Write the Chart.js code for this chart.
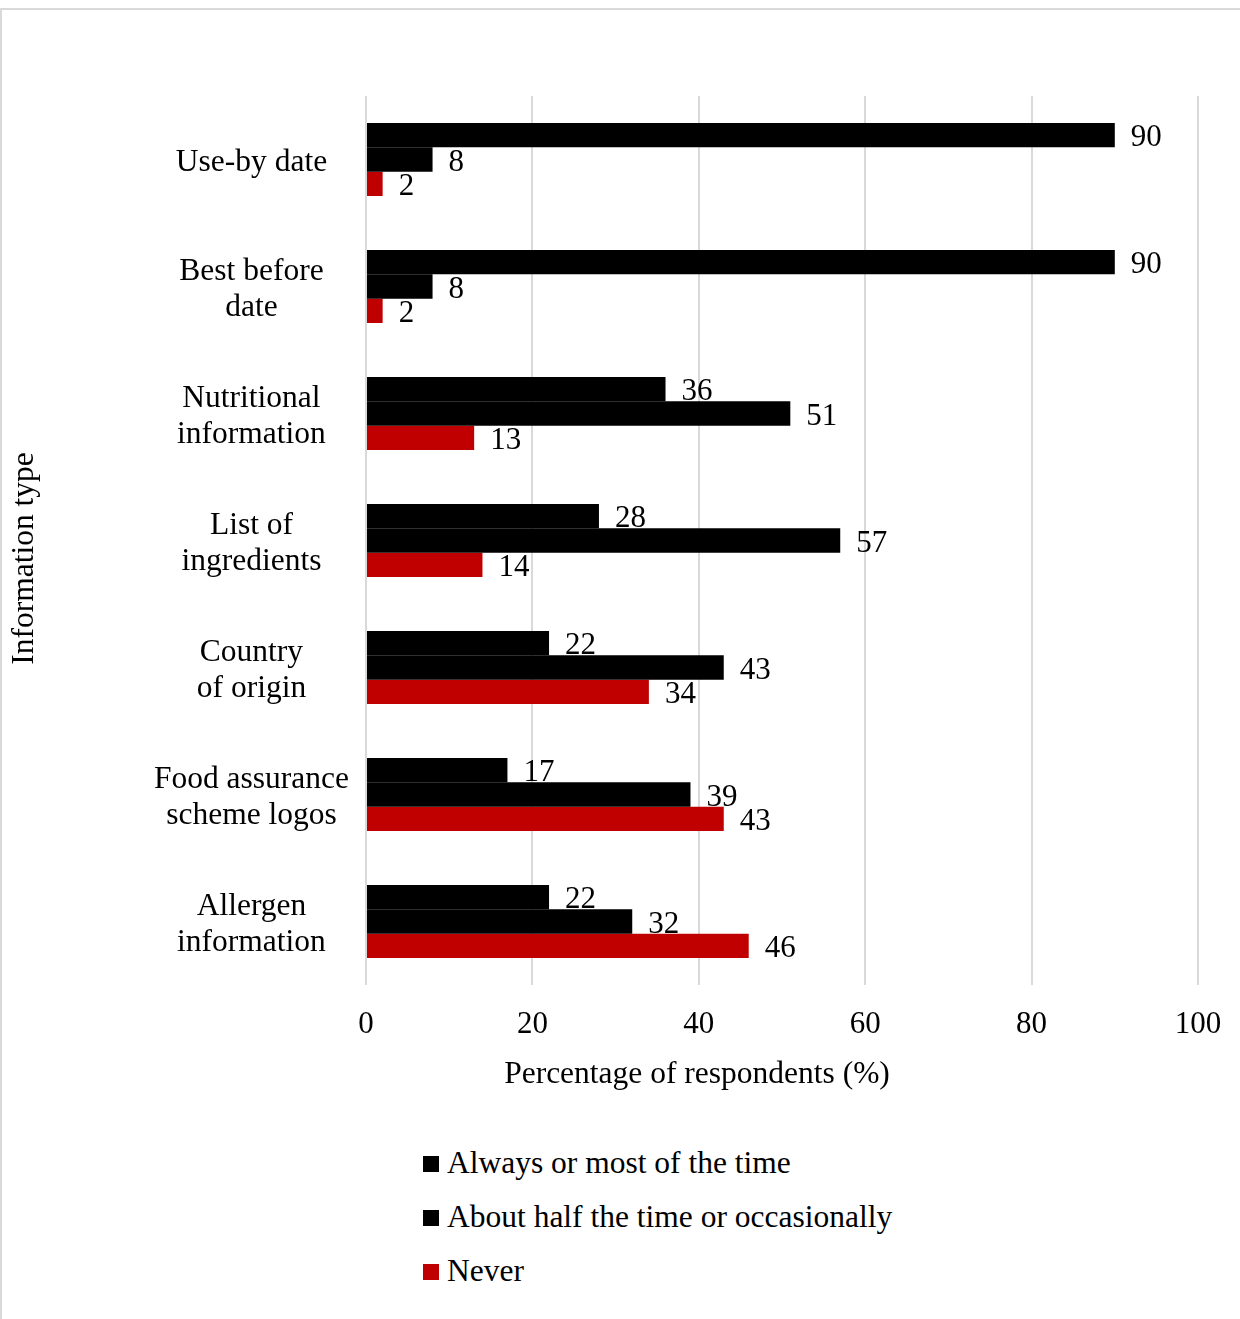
<!DOCTYPE html>
<html>
<head>
<meta charset="utf-8">
<script src="https://cdn.jsdelivr.net/npm/chart.js@4.4.1/dist/chart.umd.min.js"></script>
<style>
  html, body { margin: 0; padding: 0; background: #fff; overflow: hidden; }
  body { width: 1240px; height: 1319px; position: relative; font-family: "Liberation Serif", "Times New Roman", serif; }
  .frame { position: absolute; left: 0; top: 8px; width: 1300px; height: 1400px; border: 2px solid #d9d9d9; }
  .chartBox { position: absolute; left: 0; top: 0; width: 1240px; height: 1110px; }
  #legend { position: absolute; left: 423px; top: 1141px; }
  .item { height: 54px; line-height: 44px; font-size: 31.5px; color: #000; white-space: nowrap; }
  .item span.box { display: inline-block; width: 16px; height: 16px; margin-right: 8px; vertical-align: 1px; }
</style>
</head>
<body>
<div class="frame"></div>
<div class="chartBox"><canvas id="barChart"></canvas></div>
<div id="legend"></div>

<script>
// categories (top to bottom) and the three answer groups
const categories = [
    ['Use-by date'],
    ['Best before', 'date'],
    ['Nutritional', 'information'],
    ['List of', 'ingredients'],
    ['Country', 'of origin'],
    ['Food assurance', 'scheme logos'],
    ['Allergen', 'information']
];
const seriesNames = ['Always or most of the time', 'About half the time or occasionally', 'Never'];
const always = [90, 90, 36, 28, 22, 17, 22];
const aboutHalf = [8, 8, 51, 57, 43, 39, 32];
const never = [2, 2, 13, 14, 34, 43, 46];
const xTicks = [0, 20, 40, 60, 80, 100];

const colors = ['#000000', '#000000', '#c00000'];
const serif = '"Liberation Serif", "Times New Roman", serif';

// value labels at the end of every bar + the two axis titles
const labelsPlugin = {
    id: 'barLabels',
    afterDatasetsDraw(chart) {
        const ctx = chart.ctx;
        ctx.save();
        ctx.font = '31px ' + serif;
        ctx.fillStyle = '#000';
        ctx.textAlign = 'left';
        ctx.textBaseline = 'middle';
        chart.data.datasets.forEach((ds, i) => {
            chart.getDatasetMeta(i).data.forEach((bar, j) => {
                ctx.fillText(ds.data[j], bar.x + 16, bar.y + 3);
            });
        });

        const area = chart.chartArea;
        ctx.font = '31.5px ' + serif;
        ctx.textAlign = 'center';
        ctx.fillText('Percentage of respondents (%)', (area.left + area.right) / 2 - 85, area.bottom + 90);

        ctx.translate(25, (area.top + area.bottom) / 2 + 18);
        ctx.rotate(-Math.PI / 2);
        ctx.fillText('Information type', 0, 0);
        ctx.restore();
    }
};

const datasets = [always, aboutHalf, never].map((vals, i) => ({
    label: seriesNames[i],
    data: vals,
    backgroundColor: colors[i],
    borderWidth: 0,
    barPercentage: 1.0,
    categoryPercentage: 0.575
}));

const ctx1 = document.getElementById('barChart').getContext('2d');
const chart = new Chart(ctx1, {
    type: 'bar',
    data: { labels: categories, datasets: datasets },
    options: {
        indexAxis: 'y',
        responsive: true,
        maintainAspectRatio: false,
        animation: false,
        layout: { padding: { top: 96, right: 42, left: 0, bottom: 0 } },
        plugins: {
            legend: { display: false },
            tooltip: { enabled: false }
        },
        scales: {
            x: {
                min: 0,
                max: 100,
                afterBuildTicks: (scale) => { scale.ticks = xTicks.map(v => ({ value: v })); },
                afterFit: (scale) => {
                    scale.height = 125;
                    scale.paddingLeft = 0;
                    scale.paddingRight = 0;
                },
                grid: { color: '#d9d9d9', lineWidth: 2, drawTicks: false },
                border: { display: false },
                ticks: { color: '#000', font: { family: serif, size: 31 }, padding: 21 }
            },
            y: {
                afterFit: (scale) => { scale.width = 366; },
                grid: { display: false },
                border: { display: false },
                ticks: {
                    color: '#000',
                    crossAlign: 'center',
                    padding: 9,
                    labelOffset: 3,
                    font: { family: serif, size: 31.5, lineHeight: 1.15 }
                }
            }
        }
    },
    plugins: [labelsPlugin]
});

// legend as a vertical list under the chart
const legendBox = document.getElementById('legend');
datasets.forEach((ds) => {
    const row = document.createElement('div');
    row.className = 'item';
    const box = document.createElement('span');
    box.className = 'box';
    box.style.background = ds.backgroundColor;
    row.appendChild(box);
    row.appendChild(document.createTextNode(ds.label));
    legendBox.appendChild(row);
});
</script>
</body>
</html>
